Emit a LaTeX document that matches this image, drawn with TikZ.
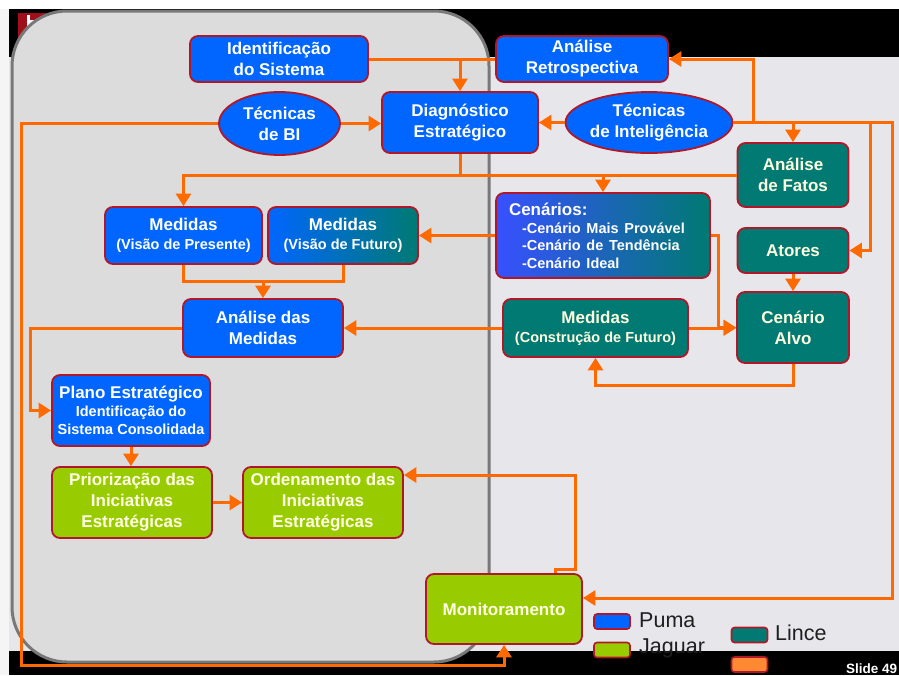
\documentclass[tikz,border=0pt]{standalone}
\usepackage{fontspec}
\setmainfont{Liberation Sans}
\usetikzlibrary{arrows.meta,shapes.geometric,calc}
\definecolor{pblue}{HTML}{0066FF}
\definecolor{cblue}{HTML}{3850FF}
\definecolor{lteal}{HTML}{007A72}
\definecolor{jgreen}{HTML}{99CC00}
\definecolor{lorange}{HTML}{FF6A00}
\definecolor{legorange}{HTML}{FF8833}
\definecolor{bred}{HTML}{B0182A}
\definecolor{panelgray}{HTML}{DCDCDC}
\definecolor{panelline}{HTML}{787878}
\definecolor{bggray}{HTML}{E7E7EB}
\definecolor{logored}{HTML}{A0101A}
\newcommand{\smtext}{\fontsize{14.5}{18}\selectfont}
\tikzset{
 box/.style={draw=bred, line width=1.8pt, rounded corners=8pt, inner sep=2pt, align=center,
   text=white, font=\bfseries\fontsize{17}{21}\selectfont},
 puma/.style={box, fill=pblue},
 lince/.style={box, fill=lteal, text=white!88!yellow},
 jag/.style={box, fill=jgreen, text=white!90!yellow},
 oval/.style={ellipse, draw=bred, line width=1.8pt, fill=pblue, inner sep=0pt, align=center,
   text=white, font=\bfseries\fontsize{17}{21}\selectfont},
 conn/.style={draw=lorange, line width=3pt},
 arr/.style={conn, -{Triangle[length=12.5pt,width=15pt]}},
 legbox/.style={draw=bred, line width=1.6pt, rounded corners=3pt, minimum width=36pt, minimum height=15pt, inner sep=0pt},
 legtext/.style={anchor=west, inner sep=0pt, text=black!88, font=\fontsize{21.5}{24}\selectfont},
}
\begin{document}
\begin{tikzpicture}[x=1pt,y=-1pt]
\useasboundingbox (0,0) rectangle (899,675);
% backgrounds
\fill[white] (0,0) rectangle (899,675);
\fill[black!4] (0,9) rectangle (9,675);
\fill[bggray] (9,57) rectangle (899,651);
\fill[black] (9,9) rectangle (899,57);
\fill[black] (9,651) rectangle (899,675);
% logo
\fill[logored] (18,13) rectangle (46,38);
\fill[white] (27,15) rectangle (30,35);
\fill[white] (27,20) rectangle (40,22.5);
% left panel
\draw[fill=panelgray, draw=panelline, line width=3pt, rounded corners=55pt] (12,11) rectangle (489,662);

% nodes
\node[puma, minimum width=178pt, minimum height=46pt] (ident) at (279,59) {Identificação\\do Sistema};
\node[puma, minimum width=172pt, minimum height=46pt] (retro) at (582,59) {Análise\\Retrospectiva};
\node[oval, minimum width=121pt, minimum height=63pt] (bi) at (279.5,123.5) {Técnicas\\de BI};
\node[puma, minimum width=156pt, minimum height=61pt] (diag) at (460,122.5) {Diagnóstico\\Estratégico};
\node[oval, minimum width=164pt, minimum height=61pt] (intel) at (649,122.5) {Técnicas\\de Inteligência};
\node[lince, minimum width=111pt, minimum height=64pt] (fatos) at (793,175) {Análise\\de Fatos};
\node[puma, minimum width=157pt, minimum height=57pt] (mpres) at (183.5,235.5) {Medidas\\[-2pt]{\smtext (Visão de Presente)}};
\node[box, left color=pblue, right color=lteal, minimum width=150pt, minimum height=57pt] (mfut) at (343,235.5) {Medidas\\[-2pt]{\smtext (Visão de Futuro)}};
\node[box, left color=cblue, right color=lteal, minimum width=214pt, minimum height=85pt, text width=188pt, align=left] (cen) at (603,235.5)
  {Cenários:\\[-3pt]{\smtext\hspace*{13pt}-Cenário Mais Provável}\\[-3.5pt]{\smtext\hspace*{13pt}-Cenário de Tendência}\\[-3.5pt]{\smtext\hspace*{13pt}-Cenário Ideal}};
\node[lince, minimum width=111pt, minimum height=45pt] (atores) at (793,250.5) {Atores};
\node[puma, minimum width=160pt, minimum height=58pt] (amed) at (263,328) {Análise das\\Medidas};
\node[lince, minimum width=185pt, minimum height=58pt] (mcon) at (595.5,328) {Medidas\\[-2pt]{\smtext (Construção de Futuro)}};
\node[lince, minimum width=112pt, minimum height=71pt] (alvo) at (793,327.5) {Cenário\\Alvo};
\node[puma, minimum width=158pt, minimum height=71pt] (plano) at (131,410.5) {Plano Estratégico\\[-3pt]{\smtext Identificação do}\\[-3pt]{\smtext Sistema Consolidada}};
\node[jag, minimum width=160pt, minimum height=71pt] (prior) at (132,502.5) {Priorização das\\Iniciativas\\Estratégicas};
\node[jag, minimum width=160pt, minimum height=71pt] (orden) at (323,502.5) {Ordenamento das\\Iniciativas\\Estratégicas};
\node[jag, minimum width=156pt, minimum height=70pt] (monit) at (504,609) {Monitoramento};

% helper coordinates
\coordinate (ja) at (753,0);
\coordinate (jb) at (870,0);
\coordinate (jc) at (892,598);
\coordinate (je) at (0,281);
\coordinate (jf) at (718,0);
\coordinate (jg) at (0,385);
\coordinate (jh) at (30,0);
\coordinate (ji) at (21,665);
\coordinate (jj) at (555,0);
\coordinate (jk) at (575,569);
\coordinate (jl) at (0,475);

% connectors
\draw[conn] (ident.east) -- (retro.west);
\draw[arr] (ident.east -| diag.north) -- (diag.north);
\draw[arr] (bi.east) -- (diag.west |- bi.east);
\draw[arr] (intel.west) -- (diag.east |- intel.west);
\draw[arr] (bi.west) -| (ji) -| (monit.south);
\draw[conn] (diag.south) -- (diag.south |- fatos.west);
\draw[arr] (fatos.west) -| (mpres.north);
\draw[arr] (cen.north |- fatos.west) -- (cen.north);
\draw[arr] (intel.east) -| (jc) -- (monit.east |- jc);
\draw[arr] (intel.east -| ja) |- (retro.east);
\draw[arr] (fatos.north |- intel.east) -- (fatos.north);
\draw[arr] (intel.east -| jb) |- (atores.east);
\draw[conn] (mpres.south) |- (je -| mfut.south) -- (mfut.south);
\draw[arr] (amed.north |- je) -- (amed.north);
\draw[arr] (cen.west) -- (mfut.east);
\draw[arr] (cen.east) -- (cen.east -| jf) |- (alvo.west);
\draw[arr] (mcon.east) -- (alvo.west |- mcon.east);
\draw[arr] (atores.south) -- (alvo.north);
\draw[arr] (alvo.south) -- (alvo.south |- jg) -| (mcon.south);
\draw[arr] (mcon.west) -- (amed.east);
\draw[arr] (amed.west) -- (amed.west -| jh) |- (plano.west);
\draw[arr] (plano.south) -- (plano.south |- prior.north);
\draw[arr] (prior.east) -- (orden.west);
\draw[arr] (monit.north -| jj) |- (jk) -- (jk |- jl) -- (orden.east |- jl);

% legend
\node[legbox, fill=pblue] (lpuma) at (612,621.5) {};
\node[legtext] (tpuma) at (639,620) {Puma};
\node[legbox, fill=jgreen] (ljag) at (612,650) {};
\node[legtext] (tjag) at (639,648) {Jaguar};
\node[legbox, fill=lteal] (llince) at (749.5,635) {};
\node[legtext] (tlince) at (775,633) {Lince};
\node[legbox, fill=legorange] (lorg) at (749.5,664.5) {};
\node[anchor=west, inner sep=0pt, text=white, font=\bfseries\fontsize{13.5}{15}\selectfont] (slide) at (846,669) {Slide 49};
\end{tikzpicture}
\end{document}
